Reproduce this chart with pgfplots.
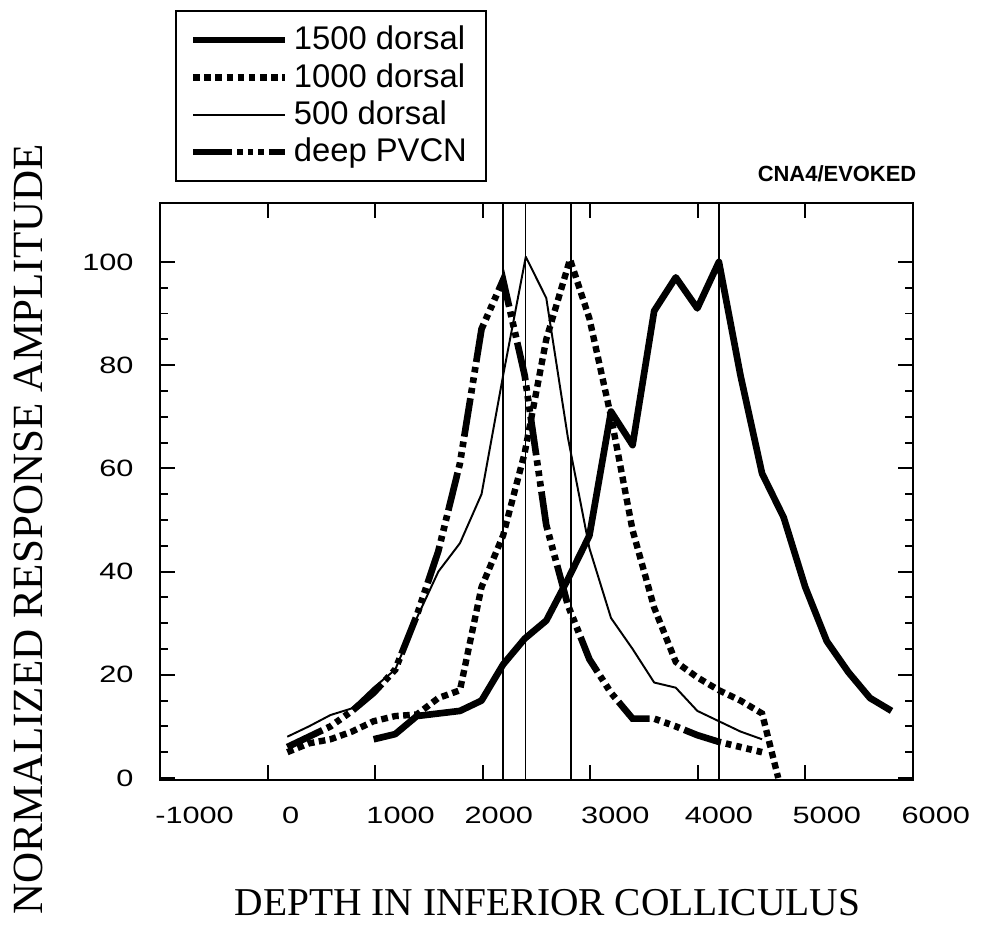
\documentclass[border=0pt]{standalone}
\usepackage{fontspec}
\setmainfont{Liberation Sans}
\newfontfamily\tickfont[FakeStretch=1.3]{Liberation Sans}
\newfontfamily\labfont{Liberation Serif}
\usepackage{pgfplots}
\pgfplotsset{compat=1.18}

% line styles of the four series
\pgfplotsset{
  d1500/.style={black, line width=2.4pt, line join=round},
  d1000/.style={black, line width=2.3pt, dash pattern=on 2.4pt off 1.6pt},
  d500/.style={black, line width=0.7pt, line join=round},
  pvcn/.style={black, line width=2.4pt, dash pattern=on 14pt off 1.8pt on 2pt off 1.8pt on 2pt off 1.8pt on 2pt off 1.8pt},
  vline/.style={black, line width=0.5pt, forget plot},
}
\tikzset{xtl/.style={font=\tickfont\fontsize{8.5}{10}\selectfont, anchor=base, yshift=-15.5pt}}

\begin{document}
\begin{tikzpicture}
\begin{axis}[
  scale only axis, width=271.1pt, height=207.7pt,
  xmin=-1180, xmax=5800, ymin=-0.4, ymax=111.4,
  xtick={-1180,-183,814,1811,2808,3805,4802,5800},
  xticklabels={},
  minor x tick num=4,
  ytick={0,20,40,60,80,100},
  minor y tick num=3,
  tick align=inside,
  major tick length=5.4pt, minor tick length=3pt,
  tick style={black, line width=0.7pt},
  axis line style={line width=0.9pt},
  /pgf/number format/assume math mode=true,
  yticklabel style={font=\tickfont\fontsize{8.5}{10}\selectfont, xshift=-6pt},
  clip=false,
  xlabel={DEPTH IN INFERIOR COLLICULUS},
  xlabel style={font=\labfont\fontsize{14.2}{16}\selectfont, at={(axis description cs:0.5145,-0.234)}, anchor=base},
  ylabel={NORMALIZED RESPONSE AMPLITUDE},
  ylabel style={font=\labfont\fontsize{15.5}{17}\selectfont, at={(axis description cs:-0.1567,0.435)}, anchor=base},
  legend style={at={(0.02,1.335)}, anchor=north west, draw=black, line width=0.7pt,
    font=\fontsize{11.8}{13}\selectfont, cells={anchor=west}, row sep=-0.6pt,
    inner xsep=5pt, inner ysep=3.5pt},
  legend image code/.code={\draw[#1] (0pt,0pt) -- (33pt,0pt);},
]
\addplot[d1500] coordinates {
  (800,7.5) (1000,8.5) (1200,12) (1400,12.5) (1600,13) (1800,15) (2000,22)
  (2200,27) (2400,30.5) (2600,38.5) (2800,47) (3000,71) (3200,64.5)
  (3400,90.5) (3600,97) (3800,91) (4000,100) (4200,78) (4400,59)
  (4600,50.5) (4800,37) (5000,26.5) (5200,20.5) (5400,15.5) (5600,13)};
\addlegendentry{1500 dorsal}
\addplot[d1000] coordinates {
  (0,5) (200,6.7) (400,7.5) (600,9) (800,11) (1000,12) (1200,12.3)
  (1400,15.5) (1600,17) (1800,37) (2000,47) (2200,63) (2400,85)
  (2620,100.5) (2800,89) (3000,70) (3200,48) (3400,33) (3600,22.5)
  (3800,19.5) (4000,17) (4200,15) (4400,12.5) (4550,0)};
\addlegendentry{1000 dorsal}
\addplot[d500] coordinates {
  (0,8) (200,10) (400,12.2) (600,13.5) (800,17.5) (1000,21) (1200,31)
  (1400,40) (1600,45.5) (1800,55) (2000,78) (2210,101) (2400,93)
  (2600,66) (2800,44.5) (3000,31) (3200,25) (3400,18.5) (3600,17.5)
  (3800,13) (4000,11) (4200,9) (4400,7.5)};
\addlegendentry{500 dorsal}
\addplot[pvcn] coordinates {
  (0,6) (200,8) (400,10) (600,13) (800,16.5) (1000,21) (1200,31.5)
  (1400,44) (1600,61) (1800,87) (2000,96.5) (2200,78) (2400,49)
  (2600,33.5) (2800,23) (3000,16.5) (3200,11.5) (3400,11.5) (3600,10)
  (3800,8.3) (4000,7) (4200,6) (4400,5)};
\addlegendentry{deep PVCN}

\addplot[vline] coordinates {(2000,-0.4) (2000,111.4)};
\addplot[vline] coordinates {(2210,-0.4) (2210,111.4)};
\addplot[vline] coordinates {(2630,-0.4) (2630,111.4)};
\addplot[vline] coordinates {(4000,-0.4) (4000,111.4)};

\node[xtl] at (axis cs:-860,-0.4) {-1000};
\node[xtl] at (axis cs:30,-0.4) {0};
\node[xtl] at (axis cs:1050,-0.4) {1000};
\node[xtl] at (axis cs:1960,-0.4) {2000};
\node[xtl] at (axis cs:3040,-0.4) {3000};
\node[xtl] at (axis cs:4000,-0.4) {4000};
\node[xtl] at (axis cs:5000,-0.4) {5000};
\node[xtl] at (axis cs:6010,-0.4) {6000};

\node[font=\bfseries\fontsize{7.9}{9}\selectfont, anchor=base east, inner sep=0pt]
  at (rel axis cs:1.005,1.038) {CNA4/EVOKED};
\end{axis}
\path (-57.6pt,-56.9pt) rectangle (297.7pt,280.8pt);
\end{tikzpicture}
\end{document}
